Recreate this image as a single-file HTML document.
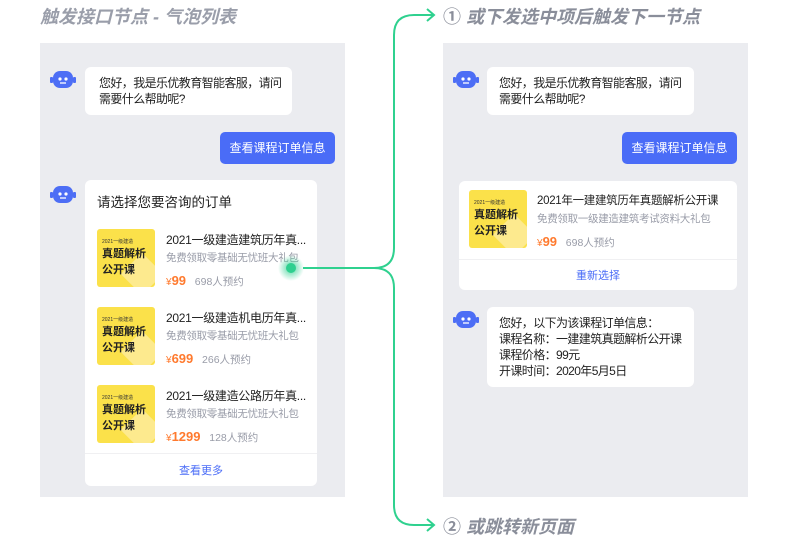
<!DOCTYPE html>
<html><head><meta charset="utf-8"><style>
*{margin:0;padding:0;box-sizing:border-box}
body{width:788px;height:540px;background:#fff;position:relative;overflow:hidden;font-family:"Liberation Sans","Noto Sans CJK SC",sans-serif;color:#222}
.a{position:absolute}
.panel{position:absolute;background:#ebecf0}
.w{position:absolute;background:#fff;border-radius:6px}
.btn{position:absolute;background:#4a6cf7;color:#fff;border-radius:5px;font-size:12px;text-align:center;line-height:32px}
.t13{font-size:12px;line-height:16px;white-space:nowrap;letter-spacing:-0.6px}
.img{position:absolute;width:58px;height:58px;background:#fbe14a;border-radius:3px;overflow:hidden}
.img .s{position:absolute;left:5px;top:9px;font-size:5px;color:#333}
.img .b{position:absolute;left:5px;top:17px;font-size:11px;font-weight:bold;line-height:16px;color:#222}
.img .d{position:absolute;left:30px;top:30px;width:30px;height:30px;background:#fdea8e;transform:rotate(45deg)}
.it{position:absolute;font-size:12px;color:#222;white-space:nowrap;letter-spacing:-0.3px}
.sub{position:absolute;font-size:10.5px;color:#999ca8;white-space:nowrap;letter-spacing:-0.3px}
.pr{position:absolute;font-size:10.5px;color:#999ca8;white-space:nowrap}
.pr b{color:#ff7a2e;font-size:13px}
.pr b small{font-size:10px;font-weight:normal}
.lk{position:absolute;font-size:11px;color:#4a6cf7;text-align:center}
.hd{position:absolute;font-size:18px;font-weight:bold;font-style:italic;color:#9a9eaa;white-space:nowrap}
</style></head><body>
<div class="hd" style="left:40px;top:3px">触发接口节点 - 气泡列表</div>
<div class="hd" style="left:443px;top:3px;font-style:normal;color:#8a8e9a">① <i>或下发选中项后触发下一节点</i></div>
<div class="hd" style="left:443px;top:513px;font-style:normal;color:#8a8e9a">② <i>或跳转新页面</i></div>

<div class="panel" style="left:40px;top:43px;width:305px;height:454px"></div>
<div class="panel" style="left:443px;top:43px;width:305px;height:454px"></div>

<!-- robots -->
<svg class="a" style="left:50px;top:70px" width="26" height="20"><rect x="3" y="1" width="20" height="17" rx="7" fill="#4d6ef5"/><rect x="0" y="7" width="3" height="6" rx="1" fill="#4d6ef5"/><rect x="23" y="7" width="3" height="6" rx="1" fill="#4d6ef5"/><circle cx="10" cy="9" r="1.6" fill="#fff"/><circle cx="16" cy="9" r="1.6" fill="#fff"/><path d="M10 13 h6" stroke="#fff" stroke-width="1.3"/></svg>
<svg class="a" style="left:50px;top:185px" width="26" height="20"><rect x="3" y="1" width="20" height="17" rx="7" fill="#4d6ef5"/><rect x="0" y="7" width="3" height="6" rx="1" fill="#4d6ef5"/><rect x="23" y="7" width="3" height="6" rx="1" fill="#4d6ef5"/><circle cx="10" cy="9" r="1.6" fill="#fff"/><circle cx="16" cy="9" r="1.6" fill="#fff"/><path d="M10 13 h6" stroke="#fff" stroke-width="1.3"/></svg>
<svg class="a" style="left:453px;top:70px" width="26" height="20"><rect x="3" y="1" width="20" height="17" rx="7" fill="#4d6ef5"/><rect x="0" y="7" width="3" height="6" rx="1" fill="#4d6ef5"/><rect x="23" y="7" width="3" height="6" rx="1" fill="#4d6ef5"/><circle cx="10" cy="9" r="1.6" fill="#fff"/><circle cx="16" cy="9" r="1.6" fill="#fff"/><path d="M10 13 h6" stroke="#fff" stroke-width="1.3"/></svg>
<svg class="a" style="left:453px;top:310px" width="26" height="20"><rect x="3" y="1" width="20" height="17" rx="7" fill="#4d6ef5"/><rect x="0" y="7" width="3" height="6" rx="1" fill="#4d6ef5"/><rect x="23" y="7" width="3" height="6" rx="1" fill="#4d6ef5"/><circle cx="10" cy="9" r="1.6" fill="#fff"/><circle cx="16" cy="9" r="1.6" fill="#fff"/><path d="M10 13 h6" stroke="#fff" stroke-width="1.3"/></svg>

<!-- left -->
<div class="w t13" style="left:85px;top:67px;width:207px;height:48px;padding:8px 14px">您好，我是乐优教育智能客服，请问<br>需要什么帮助呢?</div>
<div class="btn" style="left:220px;top:132px;width:115px;height:32px">查看课程订单信息</div>
<div class="w" style="left:85px;top:180px;width:232px;height:306px"></div>
<div class="a" style="left:97px;top:191px;font-size:13.5px">请选择您要咨询的订单</div>

<div class="img" style="left:97px;top:229px"><div class="d"></div><div class="s">2021一级建造</div><div class="b">真题解析<br>公开课</div></div>
<div class="it" style="left:166px;top:231px">2021一级建造建筑历年真...</div>
<div class="sub" style="left:166px;top:250px">免费领取零基础无忧班大礼包</div>
<div class="pr" style="left:166px;top:273px"><b><small>¥</small>99</b>&nbsp;&nbsp; 698人预约</div>

<div class="img" style="left:97px;top:307px"><div class="d"></div><div class="s">2021一级建造</div><div class="b">真题解析<br>公开课</div></div>
<div class="it" style="left:166px;top:309px">2021一级建造机电历年真...</div>
<div class="sub" style="left:166px;top:328px">免费领取零基础无忧班大礼包</div>
<div class="pr" style="left:166px;top:351px"><b><small>¥</small>699</b>&nbsp;&nbsp; 266人预约</div>

<div class="img" style="left:97px;top:385px"><div class="d"></div><div class="s">2021一级建造</div><div class="b">真题解析<br>公开课</div></div>
<div class="it" style="left:166px;top:387px">2021一级建造公路历年真...</div>
<div class="sub" style="left:166px;top:406px">免费领取零基础无忧班大礼包</div>
<div class="pr" style="left:166px;top:429px"><b><small>¥</small>1299</b>&nbsp;&nbsp; 128人预约</div>
<div class="a" style="left:85px;top:453px;width:232px;height:1px;background:#f0f0f2"></div>
<div class="lk" style="left:85px;top:462px;width:232px">查看更多</div>

<!-- right -->
<div class="w t13" style="left:487px;top:67px;width:207px;height:48px;padding:8px 12px">您好，我是乐优教育智能客服，请问<br>需要什么帮助呢?</div>
<div class="btn" style="left:622px;top:132px;width:115px;height:32px">查看课程订单信息</div>
<div class="w" style="left:459px;top:181px;width:278px;height:109px"></div>
<div class="img" style="left:469px;top:190px"><div class="d"></div><div class="s">2021一级建造</div><div class="b">真题解析<br>公开课</div></div>
<div class="it" style="left:537px;top:192px;font-size:11.5px">2021年一建建筑历年真题解析公开课</div>
<div class="sub" style="left:537px;top:211px">免费领取一级建造建筑考试资料大礼包</div>
<div class="pr" style="left:537px;top:234px"><b><small>¥</small>99</b>&nbsp;&nbsp; 698人预约</div>
<div class="a" style="left:459px;top:259px;width:278px;height:1px;background:#f0f0f2"></div>
<div class="lk" style="left:459px;top:267px;width:278px">重新选择</div>

<div class="w t13" style="left:487px;top:307px;width:207px;height:80px;padding:8px 12px">您好，以下为该课程订单信息：<br>课程名称：一建建筑真题解析公开课<br>课程价格：99元<br>开课时间：2020年5月5日</div>

<svg class="a" style="left:0;top:0" width="788" height="540">
<defs><radialGradient id="g"><stop offset="0" stop-color="#2fcf8f"/><stop offset="0.4" stop-color="#2fcf8f" stop-opacity="0.5"/><stop offset="1" stop-color="#2fcf8f" stop-opacity="0"/></radialGradient></defs>
<g fill="none" stroke="#2fd18f" stroke-width="2">
<path d="M303 268 H374 Q394 268 394 248 V35 Q394 15 414 15 H434"/>
<path d="M374 268 Q394 268 394 288 V505 Q394 525 414 525 H434"/>
<path d="M427 9 L434 15 L427 21"/>
<path d="M427 519 L434 525 L427 531"/>
</g>
<circle cx="291" cy="268" r="13" fill="url(#g)"/>
<circle cx="291" cy="268" r="5" fill="#2fcf8f"/>
</svg>
</body></html>
